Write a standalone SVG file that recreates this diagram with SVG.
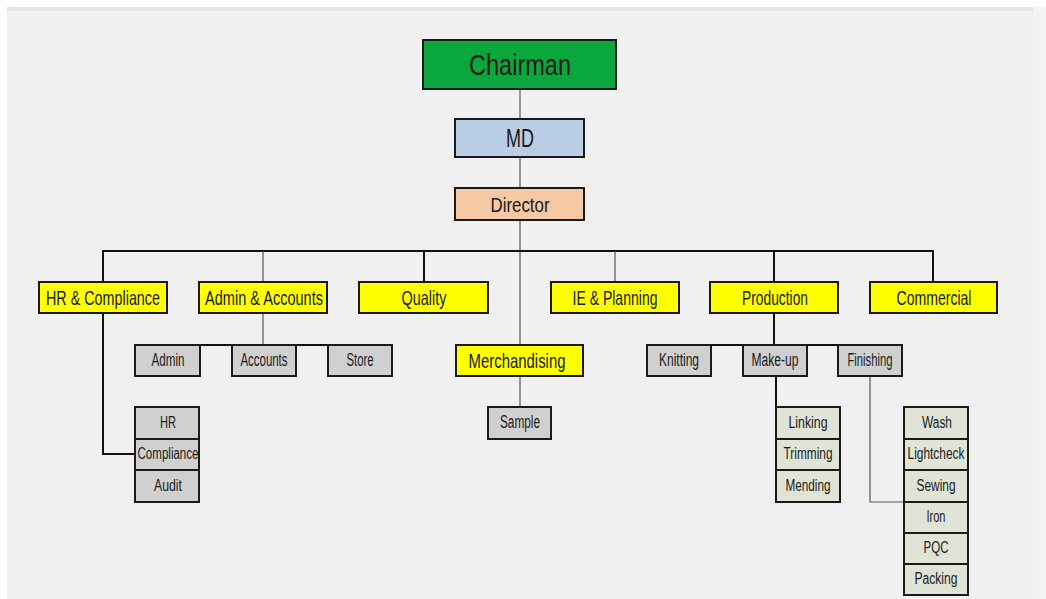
<svg xmlns="http://www.w3.org/2000/svg" width="1046" height="599" viewBox="0 0 1046 599">
<style>
text{font-family:"Liberation Sans",Arial,sans-serif;fill:#1a1a1a;text-anchor:middle;}
.box{stroke:#1a1a1a;stroke-width:2;}
.y{fill:#ffff00;}
.g{fill:#d0d0d0;}
.s{fill:#dfe4d6;}
.ln{stroke:#111;stroke-width:2;fill:none;}
.lt{stroke:#555;stroke-width:1.2;fill:none;}
.l2{font-size:21px;}
.l3{font-size:18px;}
.l4{font-size:16px;}
</style>
<rect x="0" y="0" width="1046" height="599" fill="#f3f3f3"/>
<rect x="0" y="0" width="1046" height="7" fill="#ffffff"/>
<rect x="0" y="0" width="7" height="599" fill="#ffffff"/>
<rect x="7" y="7" width="1026" height="592" fill="#f0f0f0"/>
<rect x="7" y="7" width="1026" height="4" fill="#ece3da"/>

<g id="connectors">
<line class="lt" x1="520" y1="89" x2="520" y2="119"/>
<line class="lt" x1="520" y1="157" x2="520" y2="188"/>
<line class="lt" x1="520" y1="220" x2="520" y2="407"/>
<polyline class="ln" points="103,282 103,251 933,251 933,282"/>
<line class="lt" x1="263" y1="251" x2="263" y2="282"/>
<line class="ln" x1="424" y1="251" x2="424" y2="282"/>
<line class="lt" x1="615" y1="251" x2="615" y2="282"/>
<line class="ln" x1="774" y1="251" x2="774" y2="282"/>
<polyline class="ln" points="103,313 103,454 135,454"/>
<line class="lt" x1="263" y1="313" x2="263" y2="345"/>
<line class="ln" x1="135" y1="345" x2="392" y2="345"/>
<line class="ln" x1="774" y1="313" x2="774" y2="345"/>
<line class="ln" x1="647" y1="345" x2="902" y2="345"/>
<line class="ln" x1="776" y1="376" x2="776" y2="502"/>
<polyline class="lt" points="870,376 870,502 904,502"/>
</g>

<g id="chairman"><rect class="box" x="423" y="40" width="193" height="49" fill="#0aa83c" stroke-width="2.5"/><text x="520" y="75" font-size="30" textLength="102" lengthAdjust="spacingAndGlyphs">Chairman</text></g>
<g id="md"><rect class="box" x="455" y="119" width="129" height="38" fill="#b9cde5"/><text x="520" y="147" font-size="25" textLength="28" lengthAdjust="spacingAndGlyphs">MD</text></g>
<g id="director"><rect class="box" x="455" y="188" width="129" height="32" fill="#f5c9a3"/><text x="520" y="212" font-size="21" textLength="59" lengthAdjust="spacingAndGlyphs">Director</text></g>

<g id="hr-compliance"><rect class="box y" x="39" y="282" width="128" height="31"/><text class="l2" x="103" y="305" textLength="114" lengthAdjust="spacingAndGlyphs">HR &amp; Compliance</text></g>
<g id="admin-accounts"><rect class="box y" x="199" y="282" width="128" height="31"/><text class="l2" x="264" y="305" textLength="118" lengthAdjust="spacingAndGlyphs">Admin &amp; Accounts</text></g>
<g id="quality"><rect class="box y" x="359" y="282" width="129" height="31"/><text class="l2" x="424" y="305" textLength="45" lengthAdjust="spacingAndGlyphs">Quality</text></g>
<g id="ie-planning"><rect class="box y" x="551" y="282" width="128" height="31"/><text class="l2" x="615" y="305" textLength="85" lengthAdjust="spacingAndGlyphs">IE &amp; Planning</text></g>
<g id="production"><rect class="box y" x="710" y="282" width="128" height="31"/><text class="l2" x="775" y="305" textLength="66" lengthAdjust="spacingAndGlyphs">Production</text></g>
<g id="commercial"><rect class="box y" x="870" y="282" width="127" height="31"/><text class="l2" x="934" y="305" textLength="75" lengthAdjust="spacingAndGlyphs">Commercial</text></g>

<g id="admin"><rect class="box g" x="135" y="345" width="65" height="31"/><text class="l3" x="168" y="366" textLength="33" lengthAdjust="spacingAndGlyphs">Admin</text></g>
<g id="accounts"><rect class="box g" x="232" y="345" width="64" height="31"/><text class="l3" x="264" y="366" textLength="47" lengthAdjust="spacingAndGlyphs">Accounts</text></g>
<g id="store"><rect class="box g" x="328" y="345" width="64" height="31"/><text class="l3" x="360" y="366" textLength="27" lengthAdjust="spacingAndGlyphs">Store</text></g>
<g id="merchandising"><rect class="box y" x="456" y="345" width="127" height="31"/><text class="l2" x="517" y="368" textLength="97" lengthAdjust="spacingAndGlyphs">Merchandising</text></g>
<g id="knitting"><rect class="box g" x="647" y="345" width="64" height="31"/><text class="l3" x="679" y="366" textLength="40" lengthAdjust="spacingAndGlyphs">Knitting</text></g>
<g id="make-up"><rect class="box g" x="743" y="345" width="64" height="31"/><text class="l3" x="775" y="366" textLength="47" lengthAdjust="spacingAndGlyphs">Make-up</text></g>
<g id="finishing"><rect class="box g" x="838" y="345" width="64" height="31"/><text class="l3" x="870" y="366" textLength="45" lengthAdjust="spacingAndGlyphs">Finishing</text></g>

<g id="sample"><rect class="box g" x="488" y="407" width="63" height="32"/><text class="l3" x="520" y="428" textLength="40" lengthAdjust="spacingAndGlyphs">Sample</text></g>

<g id="hr"><rect class="box g" x="135" y="407" width="64" height="32"/><text class="l4" x="168" y="428" textLength="16" lengthAdjust="spacingAndGlyphs">HR</text></g>
<g id="compliance"><rect class="box g" x="135" y="439" width="64" height="31"/><text class="l4" x="168" y="459" textLength="61" lengthAdjust="spacingAndGlyphs">Compliance</text></g>
<g id="audit"><rect class="box g" x="135" y="470" width="64" height="32"/><text class="l4" x="168" y="491" textLength="28" lengthAdjust="spacingAndGlyphs">Audit</text></g>

<g id="linking"><rect class="box s" x="776" y="407" width="64" height="32"/><text class="l4" x="808" y="428" textLength="39" lengthAdjust="spacingAndGlyphs">Linking</text></g>
<g id="trimming"><rect class="box s" x="776" y="439" width="64" height="31"/><text class="l4" x="808" y="459" textLength="49" lengthAdjust="spacingAndGlyphs">Trimming</text></g>
<g id="mending"><rect class="box s" x="776" y="470" width="64" height="32"/><text class="l4" x="808" y="491" textLength="45" lengthAdjust="spacingAndGlyphs">Mending</text></g>

<g id="wash"><rect class="box s" x="904" y="407" width="64" height="32"/><text class="l4" x="937" y="428" textLength="30" lengthAdjust="spacingAndGlyphs">Wash</text></g>
<g id="lightcheck"><rect class="box s" x="904" y="439" width="64" height="31"/><text class="l4" x="936" y="459" textLength="57" lengthAdjust="spacingAndGlyphs">Lightcheck</text></g>
<g id="sewing"><rect class="box s" x="904" y="470" width="64" height="32" stroke-width="1.2"/><text class="l4" x="936" y="491" textLength="39" lengthAdjust="spacingAndGlyphs">Sewing</text></g>
<g id="iron"><rect class="box s" x="904" y="502" width="64" height="31" stroke-width="1.2"/><text class="l4" x="936" y="522" textLength="19" lengthAdjust="spacingAndGlyphs">Iron</text></g>
<g id="pqc"><rect class="box s" x="904" y="533" width="64" height="31" stroke-width="1.2"/><text class="l4" x="936" y="553" textLength="25" lengthAdjust="spacingAndGlyphs">PQC</text></g>
<g id="packing"><rect class="box s" x="904" y="564" width="64" height="31" stroke-width="1.2"/><text class="l4" x="936" y="584" textLength="43" lengthAdjust="spacingAndGlyphs">Packing</text></g>
</svg>
